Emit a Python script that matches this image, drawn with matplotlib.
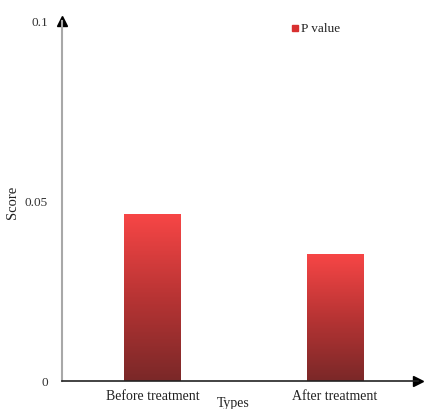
import numpy as np
import matplotlib.pyplot as plt
from matplotlib.colors import LinearSegmentedColormap
from matplotlib.patches import Rectangle

categories = ['Before treatment', 'After treatment']
p_values = [0.0464, 0.0353]
y_ticks = [0, 0.05, 0.1]
y_tick_labels = ['0', '0.05', '0.1']

plt.rcParams['font.family'] = ['Liberation Serif', 'DejaVu Serif']

fig = plt.figure(figsize=(4.25, 4.1), dpi=100)
ax = fig.add_axes([62 / 425, 28 / 410, 356 / 425, 360 / 410])

# red to dark red gradient for the bars
cmap = LinearSegmentedColormap.from_list('bar', ['#7a2828', '#b83434', '#f84646'])
grad = np.linspace(0, 1, 256).reshape(-1, 1)

x = np.arange(len(categories))
width = 0.31
for xi, v in zip(x, p_values):
    im = ax.imshow(grad, cmap=cmap, origin='lower', aspect='auto',
                   extent=(xi - width / 2, xi + width / 2, 0, v), zorder=2)
    clip = Rectangle((xi - width / 2, 0), width, v, transform=ax.transData)
    im.set_clip_path(clip)

ax.set_xlim(-0.496, 1.455)
ax.set_ylim(0, 0.1)

for s in ['top', 'right']:
    ax.spines[s].set_visible(False)
ax.spines['left'].set_color('#a8a8a8')
ax.spines['left'].set_linewidth(1.5)
ax.spines['bottom'].set_color('#222222')
ax.spines['bottom'].set_linewidth(1.2)

# axis arrows
ax.plot(1, 0, '>', color='black', ms=7, transform=ax.transAxes, clip_on=False)
ax.plot(0, 1, '^', color='black', ms=7, transform=ax.transAxes, clip_on=False)

ax.set_xticks(x)
ax.set_xticklabels(categories, fontsize=10, color='#222222')
ax.set_yticks(y_ticks)
ax.set_yticklabels(y_tick_labels, fontsize=9.5, color='#333333')
ax.tick_params(length=0, pad=10)
ax.tick_params(axis='x', pad=6)

ax.set_xlabel('Types', fontsize=10, color='#222222')
ax.xaxis.set_label_coords(0.48, -0.042)
ax.set_ylabel('Score', fontsize=10.5, color='#222222', labelpad=4)

# legend
ax.plot([0.654], [0.98], 's', color='#d83030', ms=5, transform=ax.transAxes,
        clip_on=False)
ax.text(0.672, 0.98, 'P value', fontsize=9.5, color='#222222', va='center',
        transform=ax.transAxes)

fig.savefig('out.png', dpi=100)
